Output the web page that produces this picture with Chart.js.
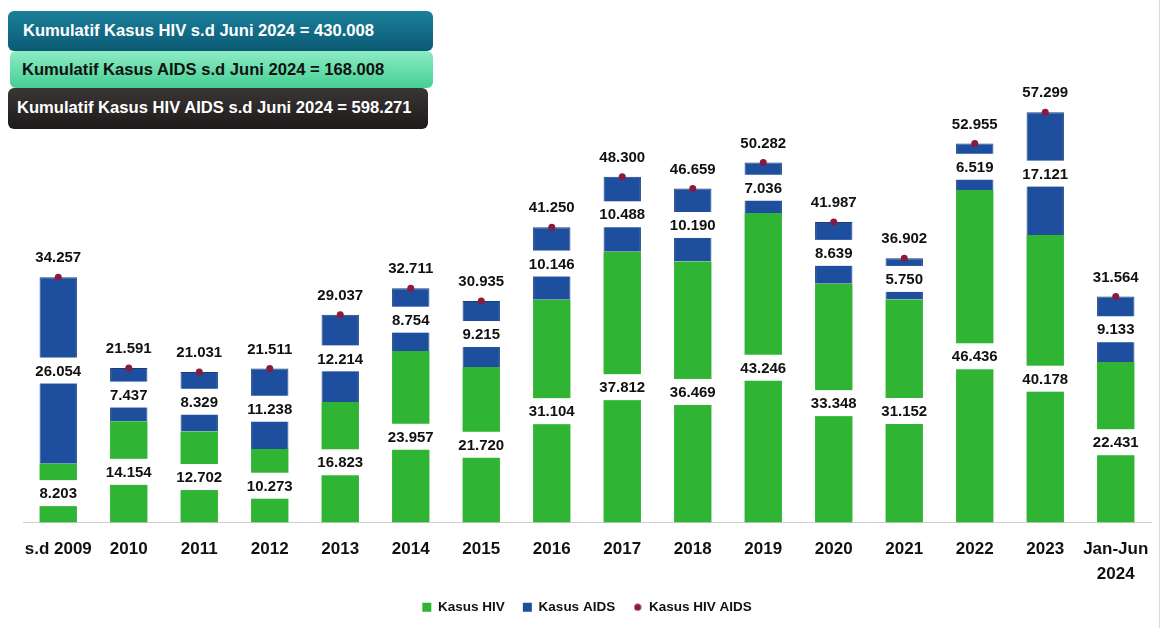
<!DOCTYPE html>
<html>
<head>
<meta charset="utf-8">
<script src="https://cdn.jsdelivr.net/npm/chart.js@4"></script>
<style>
  html, body { margin: 0; padding: 0; background: #fff; }
  #wrap { position: relative; width: 1170px; height: 628px; overflow: hidden; }
  #casesChart { position: absolute; left: 0; top: 0; }
  .banner {
    position: absolute; box-sizing: border-box;
    font: bold 16.6px "Liberation Sans", Arial, sans-serif;
    border-radius: 6px; white-space: nowrap;
  }
  .b1 { left: 8px; top: 11px; width: 425px; height: 40px; padding: 10px 0 0 15px; color: #fff;
        background: linear-gradient(#1b7f9a, #0c5a74); }
  .b2 { left: 10px; top: 51px; width: 423px; height: 37px; padding: 9px 0 0 12px; color: #111;
        background: linear-gradient(#8debc6, #44cf93); }
  .b3 { left: 8px; top: 88px; width: 420px; height: 41px; padding: 10px 0 0 9px; color: #fff;
        background: linear-gradient(#3b3636, #1d1a1a); }
  #edge { position: absolute; left: 1159px; top: 0; width: 1px; height: 628px; background: #d9d9d9; }
</style>
</head>
<body>
<div id="wrap">
  <canvas id="casesChart" width="1170" height="628"></canvas>
  <div class="banner b1">Kumulatif Kasus HIV s.d Juni 2024 = 430.008</div>
  <div class="banner b2">Kumulatif Kasus AIDS s.d Juni 2024 = 168.008</div>
  <div class="banner b3">Kumulatif Kasus HIV AIDS s.d Juni 2024 = 598.271</div>
  <div id="edge"></div>
</div>
<script>
// yearly cases
const categories = ['s.d 2009', '2010', '2011', '2012', '2013', '2014', '2015', '2016',
    '2017', '2018', '2019', '2020', '2021', '2022', '2023', ['Jan-Jun', '2024']];
const hivCases   = [8203, 14154, 12702, 10273, 16823, 23957, 21720, 31104,
    37812, 36469, 43246, 33348, 31152, 46436, 40178, 22431];
const aidsCases  = [26054, 7437, 8329, 11238, 12214, 8754, 9215, 10146,
    10488, 10190, 7036, 8639, 5750, 6519, 17121, 9133];
const totalCases = [34257, 21591, 21031, 21511, 29037, 32711, 30935, 41250,
    48300, 46659, 50282, 41987, 36902, 52955, 57299, 31564];

const GREEN = '#2fb433';
const BLUE = '#1d4f9e';
const DOT = '#8a1a3e';

// 34257 -> "34.257"
function fmt(v) {
    return String(v).replace(/\B(?=(\d{3})+(?!\d))/g, '.');
}

// small round icon for the totals entry of the legend
const dotIcon = document.createElement('canvas');
dotIcon.width = 8; dotIcon.height = 8;
(function() {
    const c = dotIcon.getContext('2d');
    c.fillStyle = DOT;
    c.beginPath(); c.arc(4, 4, 3.5, 0, Math.PI * 2); c.fill();
})();

function drawTag(ctx, text, x, y) {
    const w = ctx.measureText(text).width + 6;
    ctx.fillStyle = '#ffffff';
    ctx.fillRect(x - w / 2, y - 13, w, 26);
    ctx.fillStyle = '#111111';
    ctx.fillText(text, x, y + 1);
}

// value tags on every segment and the total above each bar
const valueLabels = {
    id: 'valueLabels',
    afterDatasetsDraw(chart) {
        const ctx = chart.ctx;
        ctx.save();
        ctx.font = 'bold 15px "Liberation Sans", Arial, sans-serif';
        ctx.textAlign = 'center';
        ctx.textBaseline = 'middle';
        [1, 2].forEach(di => {
            const values = chart.data.datasets[di].data;
            chart.getDatasetMeta(di).data.forEach((bar, i) => {
                drawTag(ctx, fmt(values[i]), bar.x, (bar.y + bar.base) / 2);
            });
        });
        chart.getDatasetMeta(0).data.forEach((pt, i) => {
            drawTag(ctx, fmt(totalCases[i]), pt.x, pt.y - 20);
        });
        ctx.restore();
    }
};

const legendRank = { 1: 0, 2: 1, 0: 2 };

new Chart(document.getElementById('casesChart').getContext('2d'), {
    type: 'bar',
    data: {
        labels: categories,
        datasets: [
            { type: 'line', label: 'Kasus HIV AIDS', data: totalCases, stack: 'total', showLine: false,
              pointRadius: 3.5, pointBackgroundColor: DOT, pointBorderColor: DOT, pointBorderWidth: 0,
              backgroundColor: DOT, borderColor: DOT },
            { label: 'Kasus HIV', data: hivCases, stack: 'cases', backgroundColor: GREEN,
              barPercentage: 0.53, categoryPercentage: 1 },
            { label: 'Kasus AIDS', data: aidsCases, stack: 'cases', backgroundColor: BLUE,
              borderColor: '#173f80', borderWidth: { left: 1, right: 1, top: 1, bottom: 0 },
              barPercentage: 0.53, categoryPercentage: 1 }
        ]
    },
    options: {
        responsive: false, animation: false, events: [],
        layout: { padding: { left: 23, right: 19, top: 93, bottom: 4 } },
        plugins: {
            tooltip: { enabled: false },
            legend: {
                position: 'bottom',
                labels: {
                    usePointStyle: true, boxHeight: 9, boxWidth: 9, padding: 18, color: '#111',
                    font: { family: '"Liberation Sans", Arial, sans-serif', size: 13.5, weight: 'bold' },
                    sort: (a, b) => legendRank[a.datasetIndex] - legendRank[b.datasetIndex],
                    generateLabels(chart) {
                        const items = Chart.defaults.plugins.legend.labels.generateLabels(chart);
                        items.forEach(it => { it.pointStyle = it.datasetIndex === 0 ? dotIcon : 'rect'; it.lineWidth = 0; });
                        return items;
                    }
                }
            }
        },
        scales: {
            x: {
                stacked: true,
                grid: { display: false, drawTicks: false },
                border: { display: true, color: '#cfcfcf' },
                ticks: { color: '#111', padding: 14, maxRotation: 0, autoSkip: false,
                         font: { family: '"Liberation Sans", Arial, sans-serif', size: 17, weight: 'bold', lineHeight: 1.5 } },
                afterFit(scale) { scale.height = 60; }
            },
            y: { stacked: true, display: false, min: 0, max: 60000 }
        }
    },
    plugins: [valueLabels]
});
</script>
</body>
</html>
